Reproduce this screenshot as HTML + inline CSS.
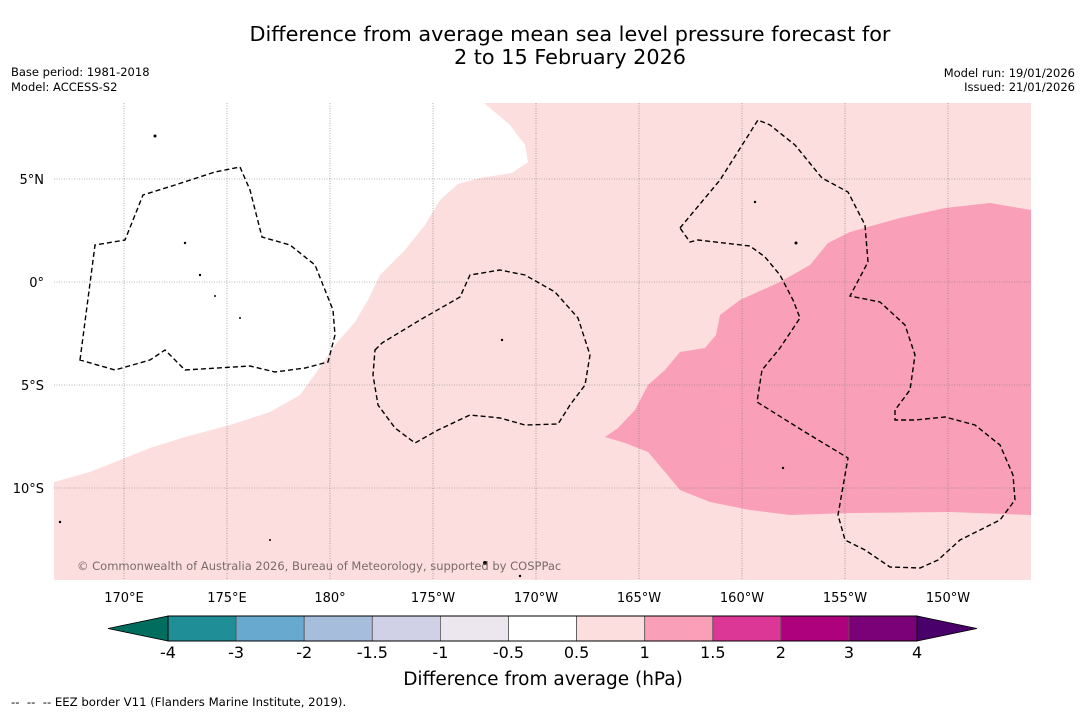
<!DOCTYPE html>
<html><head><meta charset="utf-8">
<style>
body{margin:0;background:#fff;width:1085px;height:713px;overflow:hidden;font-family:"DejaVu Sans","Liberation Sans",sans-serif;}
svg{position:absolute;left:0;top:0}
</style></head>
<body>
<svg width="1085" height="713" xmlns="http://www.w3.org/2000/svg" id="chart">
  <text x="570" y="41" font-size="20.8" text-anchor="middle">Difference from average mean sea level pressure forecast for</text>
  <text x="570" y="64" font-size="20.8" text-anchor="middle">2 to 15 February 2026</text>
  <text x="11" y="76" font-size="11.5">Base period: 1981-2018</text>
  <text x="11" y="91" font-size="11.5">Model: ACCESS-S2</text>
  <text x="1075" y="77" font-size="11.5" text-anchor="end">Model run: 19/01/2026</text>
  <text x="1075" y="91" font-size="11.5" text-anchor="end">Issued: 21/01/2026</text>

  <g>
    <clipPath id="mc"><rect x="54" y="103" width="977" height="477"/></clipPath>
    <g clip-path="url(#mc)">
      <polygon fill="#fddede" points="484,103 510,125 525,145 528,162 512,173 480,178 458,184 440,200 425,225 405,250 380,275 368,300 355,322 335,345 318,370 300,395 270,412 230,425 185,437 150,448 120,460 90,472 54,482 54,580 1031,580 1031,103"/>
      <polygon fill="#f99fb7" points="1031,210 990,203 945,208 900,218 850,232 828,243 810,265 780,282 740,300 720,315 716,335 705,348 680,352 665,370 648,385 635,410 618,428 605,437 625,443 648,452 665,472 680,490 710,502 750,510 790,515 850,513 950,512 1031,515"/>
      <g id="grid" stroke="#777" stroke-width="0.6" stroke-dasharray="1,1.5"></g>
      <g fill="none" stroke="#000" stroke-width="1.4" stroke-dasharray="5,3">
        <polygon points="80,360 95,245 125,240 143,195 175,185 215,172 240,167 250,190 262,237 290,245 315,265 325,290 333,310 335,335 328,362 305,368 275,372 250,366 185,370 165,350 150,360 115,370"/>
        <polygon points="375,350 382,343 420,320 460,297 470,275 500,270 525,275 555,292 578,318 590,355 585,385 570,405 558,424 525,425 500,418 470,415 438,430 415,443 395,428 378,405 373,375"/>
        <polygon points="680,228 720,180 758,120 770,125 795,145 822,178 848,192 865,225 868,262 850,296 880,302 905,325 915,355 910,390 895,410 895,420 915,420 945,417 975,425 1000,445 1013,475 1015,500 1000,520 960,540 938,560 920,568 890,567 865,550 845,540 838,515 848,458 805,432 757,402 762,370 780,348 800,318 793,300 780,275 765,257 750,246 698,240 690,242"/>
      </g>
      <g fill="#000">
        <circle cx="155" cy="136" r="1.5"/><circle cx="185" cy="243" r="1.2"/><circle cx="200" cy="275" r="1.2"/><circle cx="215" cy="296" r="1"/><circle cx="240" cy="318" r="1"/><circle cx="502" cy="340" r="1.2"/><circle cx="755" cy="202" r="1.2"/><circle cx="796" cy="243" r="1.5"/><circle cx="783" cy="468" r="1.2"/><circle cx="60" cy="522" r="1.2"/><circle cx="270" cy="540" r="1"/><circle cx="485" cy="563" r="2"/><circle cx="520" cy="576" r="1.2"/>
      </g>
      <text x="77" y="570" font-size="11.5" fill="#7a6b6b">© Commonwealth of Australia 2026, Bureau of Meteorology, supported by COSPPac</text>
    </g>
    <g id="axes" font-size="13"></g>
  </g>

  <g id="cbar"></g>
  <text x="543" y="685" font-size="18.5" text-anchor="middle">Difference from average (hPa)</text>
  <text x="11" y="706" font-size="11.7">--&#160;&#160;--&#160;&#160;-- EEZ border V11 (Flanders Marine Institute, 2019).</text>
</svg>
<script>
const lonLabels = ["170°E","175°E","180°","175°W","170°W","165°W","160°W","155°W","150°W"];
const lonValues = [170,175,180,185,190,195,200,205,210];
const latLabels = ["5°N","0°","5°S","10°S"];
const latValues = [5,0,-5,-10];
const cbBounds = ["-4","-3","-2","-1.5","-1","-0.5","0.5","1","1.5","2","3","4"];
const cbColors = ["#1f8e96","#67a9cf","#a6bddb","#d0d1e6","#ece7ee","#ffffff","#fddede","#f99fb7","#dc3696","#ae017e","#7a0177"];
const cbExtend = ["#006d5e","#49006a"];

const NS="http://www.w3.org/2000/svg";
function mk(t,a,p){const e=document.createElementNS(NS,t);for(const k in a)e.setAttribute(k,a[k]);p.appendChild(e);return e;}
const xLon = v => 124 + (v-170)*20.6;
const yLat = v => 282 - v*20.6;
const grid=document.getElementById('grid'), axes=document.getElementById('axes');
lonValues.forEach((v,i)=>{
  const l=mk('line',{x1:xLon(v),x2:xLon(v),y1:103,y2:580},grid);
  
  
  const t=mk('text',{x:xLon(v),y:602,'text-anchor':'middle'},axes);t.textContent=lonLabels[i];
  
  
});
latValues.forEach((v,i)=>{
  const l=mk('line',{x1:54,x2:1031,y1:yLat(v),y2:yLat(v)},grid);
  
  
  const t=mk('text',{x:44,y:yLat(v)+5,'text-anchor':'end'},axes);t.textContent=latLabels[i];
  
  
});
const cb=document.getElementById('cbar');
const x0=168,w=68.1,y0=616,h=25;
const xi=i=>x0+i*w;
const n=cbColors.length;
let p=mk('polygon',{points:`${x0},${y0} ${x0},${y0+h} 108,${y0+h/2}`,fill:cbExtend[0],stroke:'#000','stroke-width':0.8},cb);


p=mk('polygon',{points:`${xi(n)},${y0} ${xi(n)},${y0+h} 977,${y0+h/2}`,fill:cbExtend[1],stroke:'#000','stroke-width':0.8},cb);


cbColors.forEach((c,i)=>{
  const r=mk('rect',{x:xi(i),y:y0,width:w,height:h,fill:c,stroke:'#555','stroke-width':0.8},cb);
  
  
});
mk('rect',{x:x0,y:y0,width:n*w,height:h,fill:'none',stroke:'#000','stroke-width':1},cb);
cbBounds.forEach((b,i)=>{
  const t=mk('text',{x:xi(i),y:658,'text-anchor':'middle','font-size':16},cb);t.textContent=b;
  
  
});
</script>
</body></html>
